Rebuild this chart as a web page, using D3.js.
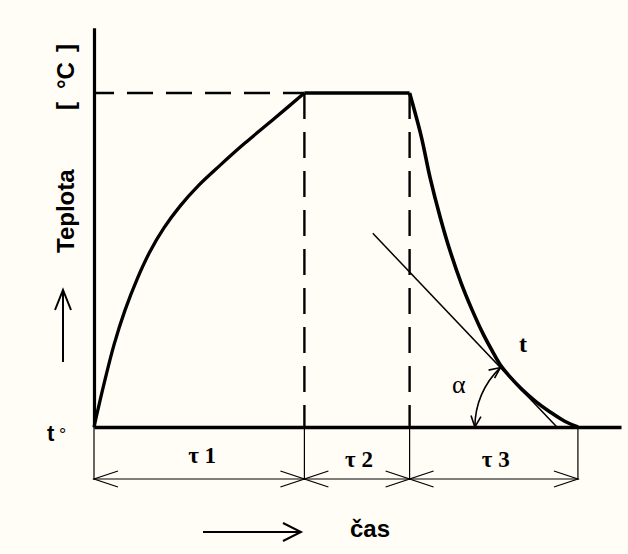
<!DOCTYPE html>
<html>
<head>
<meta charset="utf-8">
<script src="https://cdn.jsdelivr.net/npm/d3@7"></script>
<style>
  html, body { margin: 0; padding: 0; background: #fffdf5; }
  svg { display: block; }
  .domain { stroke: #000; }
</style>
</head>
<body>
<script>
// Heat-treatment cycle: heating (τ1), holding (τ2), cooling (τ3)
const phaseLabels = ["τ 1", "τ 2", "τ 3"];
const phaseBounds = [0, 40, 60, 92];          // time at phase boundaries
const holdTemp = 100;                         // holding temperature (relative)

// heating curve (time, temperature)
const heatTime = [0, 1.9, 3.8, 5.9, 8.2, 10.6, 13.3, 16.4, 19.8, 24.0, 28.7, 34.4, 40];
const heatTemp = [0, 12.9, 24.6, 35.0, 44.3, 52.4, 59.6, 66.2, 72.2, 78.4, 85.0, 92.5, 100];

// cooling curve (time, temperature)
const coolTime = [60, 62.2, 63.9, 65.8, 67.7, 69.8, 71.9, 74.0, 75.7, 77.2, 79.1, 81.4, 84.0, 86.7, 89.4, 92];
const coolTemp = [100, 87.1, 74.6, 62.9, 52.7, 43.1, 35.0, 27.8, 22.8, 18.7, 15.0, 11.2, 7.6, 4.5, 1.8, 0];

// tangent to the cooling curve
const tangentTime = [53, 88];
const tangentTemp = [58, 0];

const W = 628, H = 554;
const svg = d3.select("body").append("svg").attr("width", W).attr("height", H);
svg.append("rect").attr("width", W).attr("height", H).attr("fill", "#fffdf5");

const x = d3.scaleLinear().domain([0, 100]).range([94, 620]);
const y = d3.scaleLinear().domain([0, 100]).range([427, 93]);
const yTop = 119.5;

const ink = "#000";

// axes (plain lines, no ticks)
const yAxisScale = d3.scaleLinear().domain([0, yTop]).range([y(0), y(yTop)]);
svg.append("g").attr("transform", `translate(${x(0)},0)`)
  .call(d3.axisLeft(yAxisScale).tickValues([]).tickSizeOuter(0))
  .select(".domain").attr("stroke-width", 3.2);
const xAxisScale = d3.scaleLinear().domain([0, 100]).range([x(0), x(100) + 1]);
svg.append("g").attr("transform", `translate(0,${y(0)})`)
  .call(d3.axisBottom(xAxisScale).tickValues([]).tickSizeOuter(0))
  .select(".domain").attr("stroke-width", 3.4);

// dashed guides
const dash = "26,13";
svg.append("line")
  .attr("x1", x(0)).attr("x2", x(phaseBounds[1])).attr("y1", y(holdTemp)).attr("y2", y(holdTemp))
  .attr("stroke", ink).attr("stroke-width", 2.6).attr("stroke-dasharray", dash).attr("stroke-dashoffset", 6);
[phaseBounds[1], phaseBounds[2]].forEach(t => {
  svg.append("line")
    .attr("x1", x(t)).attr("x2", x(t)).attr("y1", y(holdTemp)).attr("y2", y(0))
    .attr("stroke", ink).attr("stroke-width", 2.4).attr("stroke-dasharray", dash);
});

// temperature curve
const line = d3.line().x(d => x(d[0])).y(d => y(d[1])).curve(d3.curveCatmullRom.alpha(0.5));
const heat = heatTime.map((t, i) => [t, heatTemp[i]]);
const cool = coolTime.map((t, i) => [t, coolTemp[i]]);
svg.append("path").attr("d", line(heat)).attr("fill", "none").attr("stroke", ink).attr("stroke-width", 3.3);
svg.append("path").attr("d", d3.line().x(d => x(d[0])).y(d => y(d[1]))([[phaseBounds[1], holdTemp], [phaseBounds[2], holdTemp]]))
  .attr("fill", "none").attr("stroke", ink).attr("stroke-width", 3.4);
svg.append("path").attr("d", line(cool)).attr("fill", "none").attr("stroke", ink).attr("stroke-width", 3.6)
  .attr("stroke-linejoin", "round");

// tangent
svg.append("line")
  .attr("x1", x(tangentTime[0])).attr("y1", y(tangentTemp[0]))
  .attr("x2", x(tangentTime[1])).attr("y2", y(tangentTemp[1]))
  .attr("stroke", ink).attr("stroke-width", 1.5);

// open arrowhead helper
function arrowHead(g, tx, ty, ang, len, half, sw) {
  const ux = Math.cos(ang), uy = Math.sin(ang);
  const px = -uy, py = ux;
  const bx = tx - ux * len, by = ty - uy * len;
  g.append("path")
    .attr("d", `M${bx + px * half},${by + py * half}L${tx},${ty}L${bx - px * half},${by - py * half}`)
    .attr("fill", "none").attr("stroke", ink).attr("stroke-width", sw);
}

// angle α between tangent and time axis
const cx = x(tangentTime[1]), cy = y(0), r = 82;
const a0 = Math.atan2(y(tangentTemp[0]) - cy, x(tangentTime[0]) - cx);
const p = d3.path();
p.arc(cx, cy, r, a0, -Math.PI, true);
svg.append("path").attr("d", p.toString()).attr("fill", "none").attr("stroke", ink).attr("stroke-width", 1.6);
arrowHead(svg, cx + r * Math.cos(a0), cy + r * Math.sin(a0), a0 + Math.PI / 2 + 0.12, 11, 5, 1.6);
arrowHead(svg, cx - r, cy, Math.PI / 2 + 0.1, 11, 5, 1.6);

// dimension lines
const dimY = 479;
phaseBounds.forEach(t => {
  svg.append("line").attr("x1", x(t)).attr("x2", x(t)).attr("y1", y(0)).attr("y2", dimY + 1)
    .attr("stroke", ink).attr("stroke-width", 1.2);
});
svg.append("line").attr("x1", x(phaseBounds[0])).attr("x2", x(phaseBounds[3])).attr("y1", dimY).attr("y2", dimY)
  .attr("stroke", ink).attr("stroke-width", 1.2);
for (let i = 0; i < 3; i++) {
  arrowHead(svg, x(phaseBounds[i]), dimY, Math.PI, 24, 8, 1.2);
  arrowHead(svg, x(phaseBounds[i + 1]), dimY, 0, 24, 8, 1.2);
}
svg.selectAll("text.phase").data(phaseLabels).join("text")
  .attr("class", "phase")
  .attr("x", (d, i) => (x(phaseBounds[i]) + x(phaseBounds[i + 1])) / 2 + (i === 0 ? 3 : 2))
  .attr("y", (d, i) => i === 0 ? 463 : 467)
  .attr("text-anchor", "middle")
  .attr("font-family", "'Liberation Serif', 'Times New Roman', serif")
  .attr("font-size", 23).attr("font-weight", "bold")
  .text(d => d);

// temperature axis label
const sans = "'Liberation Sans', Arial, sans-serif";
const vLabel = (yPos, txt) => svg.append("text").attr("transform", `translate(74,${yPos}) rotate(-90)`)
  .attr("font-family", sans).attr("font-weight", "bold").attr("font-size", 24).text(txt);
vLabel(253, "Teplota");
vLabel(110, "[");
vLabel(89, "°C");
vLabel(52, "]");

// upward arrow beside the temperature label
svg.append("line").attr("x1", 63).attr("x2", 63).attr("y1", 362).attr("y2", 291)
  .attr("stroke", ink).attr("stroke-width", 2);
arrowHead(svg, 63, 290, -Math.PI / 2, 20, 8, 2);

// time arrow and label
svg.append("line").attr("x1", 203).attr("x2", 300).attr("y1", 532).attr("y2", 532)
  .attr("stroke", ink).attr("stroke-width", 2);
arrowHead(svg, 301, 532, 0, 18, 9, 2);
svg.append("text").attr("x", 350).attr("y", 537)
  .attr("font-family", sans).attr("font-weight", "bold").attr("font-size", 24).text("čas");

svg.append("text").attr("x", 47).attr("y", 441)
  .attr("font-family", sans).attr("font-weight", "bold").attr("font-size", 22).text("t");
svg.append("text").attr("x", 59).attr("y", 441)
  .attr("font-family", sans).attr("font-size", 18).text("°");

svg.append("text").attr("x", 519).attr("y", 352)
  .attr("font-family", "'Liberation Serif', serif").attr("font-weight", "bold").attr("font-size", 24).text("t");
svg.append("text").attr("x", 452).attr("y", 393)
  .attr("font-family", "'Liberation Serif', serif").attr("font-size", 26).text("α");
</script>
</body>
</html>
